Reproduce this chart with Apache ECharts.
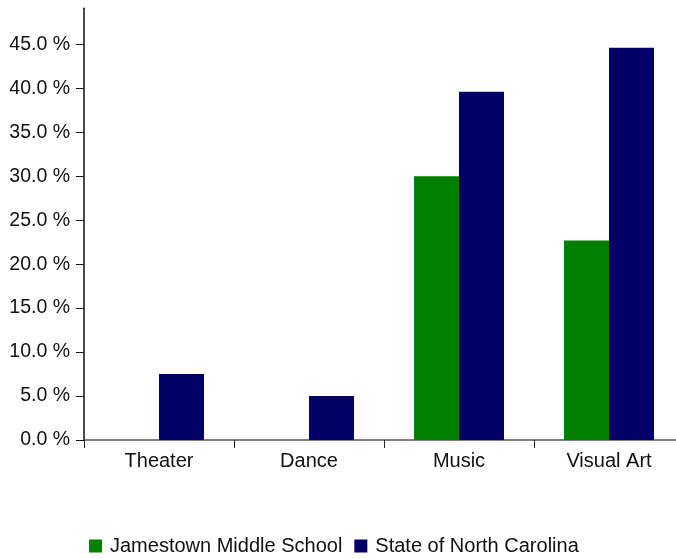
<!DOCTYPE html>
<html>
<head>
<meta charset="utf-8">
<script src="https://cdn.jsdelivr.net/npm/echarts@6/dist/echarts.min.js"></script>
<style>html,body{margin:0;padding:0;background:#fff;}#c{width:676px;height:559px;}</style>
</head>
<body>
<div id="c"></div>
<script>
const categories = ['Theater', 'Dance', 'Music', 'Visual Art'];
const seriesNames = ['Jamestown Middle School', 'State of North Carolina'];
const jamestown = [0, 0, 30.0, 22.7];
const stateNC = [7.5, 5.0, 39.6, 44.6];
const colors = ['#008000', '#000066'];

const chart = echarts.init(document.getElementById('c'));
const font = 'Arial, "Liberation Sans", sans-serif';
chart.setOption({
  animation: false,
  grid: { left: 84, width: 600, top: 8.3, bottom: 119, containLabel: false, outerBoundsMode: 'none' },
  legend: {
    data: seriesNames,
    top: 531,
    left: 84,
    itemWidth: 13, itemHeight: 13, itemGap: 12,
    icon: 'rect',
    textStyle: { fontFamily: font, fontSize: 20, lineHeight: 20, color: '#111', padding: [0, 0, 0, 3] }
  },
  xAxis: {
    type: 'category',
    data: categories,
    axisLine: { lineStyle: { color: '#555', width: 1.5 } },
    axisTick: { show: true, length: 8, lineStyle: { color: '#222' } },
    axisLabel: { fontFamily: font, fontSize: 20, color: '#111', margin: 11 },
    splitLine: { show: false }
  },
  yAxis: {
    type: 'value',
    min: 0, max: 49.1, interval: 5,
    axisLine: { show: true, lineStyle: { color: '#111', width: 1.5 } },
    axisTick: { show: true, length: 8, lineStyle: { color: '#111' } },
    axisLabel: {
      fontFamily: font, fontSize: 19.5, color: '#111', margin: 14,
      showMaxLabel: false,
      formatter: v => (Math.abs(v / 5 - Math.round(v / 5)) < 1e-6) ? v.toFixed(1) + ' %' : ''
    },
    splitLine: { show: false }
  },
  series: [
    { name: seriesNames[0], type: 'bar', data: jamestown, itemStyle: { color: colors[0] }, barGap: '0%', barCategoryGap: '40%' },
    { name: seriesNames[1], type: 'bar', data: stateNC, itemStyle: { color: colors[1] }, barGap: '0%', barCategoryGap: '40%' }
  ]
});
</script>
</body>
</html>
